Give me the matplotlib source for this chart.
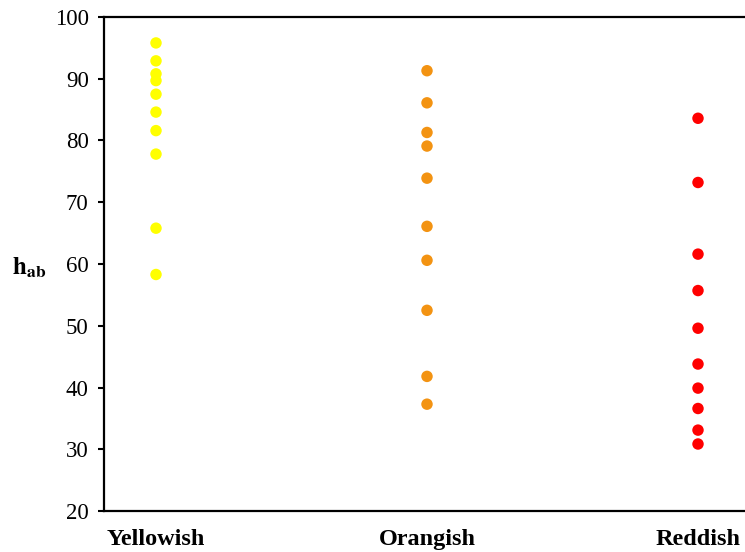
import matplotlib
matplotlib.use("Agg")
import matplotlib.pyplot as plt

categories = ["Yellowish", "Orangish", "Reddish"]
yellowish = [95.8, 92.9, 90.8, 89.7, 87.5, 84.6, 81.6, 77.8, 65.8, 58.3]
orangish = [91.3, 86.1, 81.3, 79.1, 73.9, 66.1, 60.6, 52.5, 41.8, 37.3]
reddish = [83.6, 73.2, 61.6, 55.7, 49.6, 43.8, 39.9, 36.6, 33.1, 30.85]
series = [yellowish, orangish, reddish]
colors = ["#FFFF00", "#F39312", "#FF0000"]
yticks = [20, 30, 40, 50, 60, 70, 80, 90, 100]

plt.rcParams['mathtext.fontset'] = 'stix'
W, H = 745, 552
fig = plt.figure(figsize=(W/100, H/100), dpi=100)
ax = fig.add_axes([104/W, 1-511/H, (W-104)/W, (511-17)/H])

for i, (vals, c) in enumerate(zip(series, colors)):
    ax.scatter([i]*len(vals), vals, s=68, color=c, edgecolors='none', zorder=3)

ax.set_ylim(20, 100)
ax.set_xlim(-52/271, (641-52)/271)
ax.set_yticks(yticks)
ax.set_yticklabels([str(t) for t in yticks], fontfamily='Liberation Serif', fontsize=16.5)
ax.tick_params(axis='y', direction='out', length=4, width=1.5, pad=7, color='black')
ax.set_xticks(range(len(categories)))
ax.set_xticklabels(categories, fontfamily='Liberation Serif', fontweight='bold', fontsize=17.5)
ax.tick_params(axis='x', length=0, pad=13)
for s in ['left', 'bottom', 'top']:
    ax.spines[s].set_linewidth(1.6)
ax.spines['right'].set_visible(False)

fig.text(12/W, 1-268/H, r'$\mathbf{h}_{\mathbf{ab}}$', fontsize=18, va='center', ha='left')

fig.savefig("out.png", dpi=100)
